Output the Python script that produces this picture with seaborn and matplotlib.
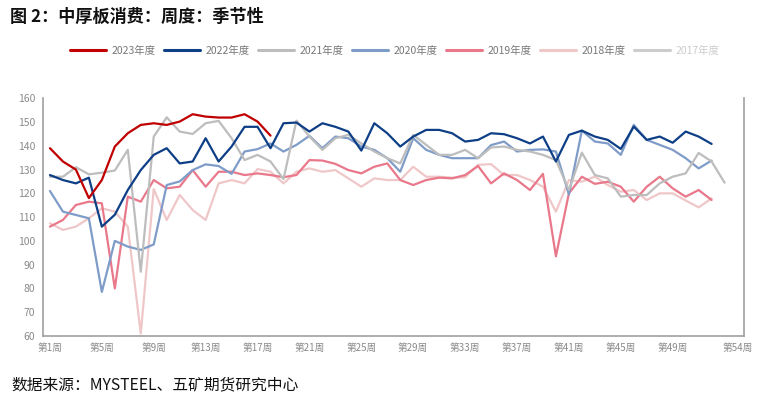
import numpy as np
import pandas as pd
import matplotlib
matplotlib.use('Agg')
import matplotlib.pyplot as plt
from matplotlib.lines import Line2D
import seaborn as sns

# weekly plate consumption (index = week, starting at 1)
y2023 = [139, 133.4, 130, 118, 125.6, 139.7, 145.3, 148.8, 149.5, 148.8, 150.2, 153.3,
         152.3, 151.9, 151.9, 153.3, 150.2, 144.3]
y2022 = [127.7, 125.6, 124.2, 126.6, 106, 111, 121.4, 129.8, 136.2, 139, 132.6, 133.4,
         143.2, 133.4, 139.7, 148, 148, 139, 149.5, 149.8, 146, 149.5, 148, 146,
         138, 149.5, 145.3, 139.7, 143.9, 146.7, 146.7, 145.3, 141.8, 142.5, 145.3, 144.9,
         143.2, 141, 143.9, 133.4, 144.6, 146.4, 143.9, 142.5, 138.7, 148.1, 142.5, 143.9,
         141.3, 146, 143.9, 140.8]
y2021 = [127, 127, 131, 128, 128.7, 129.6, 138.3, 87, 143.9, 152, 146, 145,
         149.5, 150.5, 143.2, 134, 136.2, 133.4, 126, 150.6, 143.9, 138.3, 143.2, 144.6,
         141, 137.6, 134.8, 132.6, 144.6, 140.4, 136.2, 136.2, 138.3, 134.8, 139.3, 139.7,
         138.3, 137.6, 136.2, 134, 121.4, 137.1, 127.7, 126.3, 118.6, 119.3, 119.3, 124.2,
         127, 128.4, 137, 133.4, 124.5]
y2020 = [121, 112.3, 110.9, 109.5, 78.5, 100, 97.6, 96.2, 98.5, 123.5, 125, 129.8,
         132.2, 131.5, 128.2, 137.6, 138.6, 141, 137.6, 140.4, 144.2, 139, 143.9, 143.2,
         139.7, 138.3, 134.8, 129.1, 143.2, 138.3, 136.2, 134.8, 134.8, 134.8, 140.3, 141.8,
         137.6, 138.3, 138.5, 137.6, 119.5, 146.4, 141.8, 141, 136.2, 148.8, 142.5, 140.4,
         138.3, 134.8, 130.5, 133.8]
y2019 = [106, 108.8, 115.1, 116.5, 115.8, 80, 118.6, 116.5, 125.6, 122.1, 122.8, 129.8,
         122.8, 129.1, 129.1, 127.7, 128.4, 127.7, 126.8, 127.7, 134, 133.8, 132.4, 129.8,
         128.4, 131.2, 132.6, 125.6, 123.5, 125.6, 126.6, 126.3, 127.7, 131.5, 124.2, 128.4,
         125.6, 121.4, 128.2, 93.5, 120, 127, 124, 124.9, 122.8, 116.5, 122.8, 127,
         122.1, 118.6, 121.4, 117.2]
y2018 = [107.4, 104.6, 106, 109.5, 113.7, 112.3, 106, 61, 121.8, 108.8, 119.3, 113,
         108.8, 124.2, 125.6, 124.2, 130.2, 129.1, 124.2, 129.1, 130.5, 129.1, 129.8, 126.3,
         122.8, 126.3, 125.6, 125.6, 131.2, 127, 127, 126.6, 126.8, 132, 132.3, 127.7,
         127.7, 125.6, 122.8, 112.3, 125.6, 124.9, 127, 123.5, 120.7, 121.4, 117.2, 120,
         120, 117, 114.1, 117.9]

years = ['2023年度', '2022年度', '2021年度', '2020年度', '2019年度', '2018年度', '2017年度']
colors = ['#C00000', '#0E3F86', '#BDBDBD', '#7F9CC8', '#E8788A', '#EFC7C8', '#CCCCCC']
week_labels = ['第1周', '第5周', '第9周', '第13周', '第17周', '第21周', '第25周',
               '第29周', '第33周', '第37周', '第41周', '第45周', '第49周', '第54周']

series = {'2023年度': y2023, '2022年度': y2022, '2021年度': y2021,
          '2020年度': y2020, '2019年度': y2019, '2018年度': y2018}
frames = []
for name, vals in series.items():
    frames.append(pd.DataFrame({'week': np.arange(1, len(vals) + 1),
                                'value': vals, 'year': name}))
df = pd.concat(frames, ignore_index=True)

sns.set_style('white')
plt.rcParams['font.family'] = ['Noto Sans CJK SC', 'DejaVu Sans']

fig = plt.figure(figsize=(7.6, 3.98), dpi=100)
ax = fig.add_axes([0.0572, 0.156, 0.9218, 0.597])

palette = dict(zip(years, colors))
# draw older years first so newer ones sit on top
draw_order = list(series.keys())[::-1]
sns.lineplot(data=df, x='week', y='value', hue='year', hue_order=draw_order,
             palette=palette, linewidth=1.6, legend=False, ax=ax)

ax.set_xlim(0.5, 54.5)
ax.set_ylim(60, 160)
ax.set_yticks(np.arange(60, 161, 10))
ax.set_xticks(list(range(1, 50, 4)) + [54])
ax.set_xticklabels(week_labels)
ax.set_xticks(list(np.arange(0.5, 53, 4)) + [54.5], minor=True)
ax.tick_params(axis='x', which='major', length=0, pad=5, labelsize=7, labelcolor='#8a8a8a')
ax.tick_params(axis='x', which='minor', length=4, width=1, color='#999999', direction='out')
ax.tick_params(axis='y', length=4, width=1, color='#999999', direction='out',
               labelsize=7.5, labelcolor='#8a8a8a', pad=2)
ax.set_xlabel('')
ax.set_ylabel('')
for s in ['left', 'bottom', 'right']:
    ax.spines[s].set_color('#a0a0a0')
    ax.spines[s].set_linewidth(1.2)
ax.spines['top'].set_visible(False)

handles = [Line2D([0], [0], color=c, lw=2.2) for c in colors]
leg = fig.legend(handles, years, loc='center', bbox_to_anchor=(0.519, 0.872), ncol=7,
                 frameon=False, fontsize=7.5, handlelength=3.5, handletextpad=0.5,
                 columnspacing=0.8)
for i, t in enumerate(leg.get_texts()):
    t.set_color('#cccccc' if i == len(years) - 1 else '#777777')

fig.text(0.013, 0.958, '图 2：中厚板消费：周度：季节性', fontsize=12.3, fontweight='bold',
         color='#111111', va='center', ha='left')
fig.text(0.015, 0.032, '数据来源：MYSTEEL、五矿期货研究中心', fontsize=11.3,
         color='#111111', va='center', ha='left')

fig.savefig('out.png', dpi=100)
